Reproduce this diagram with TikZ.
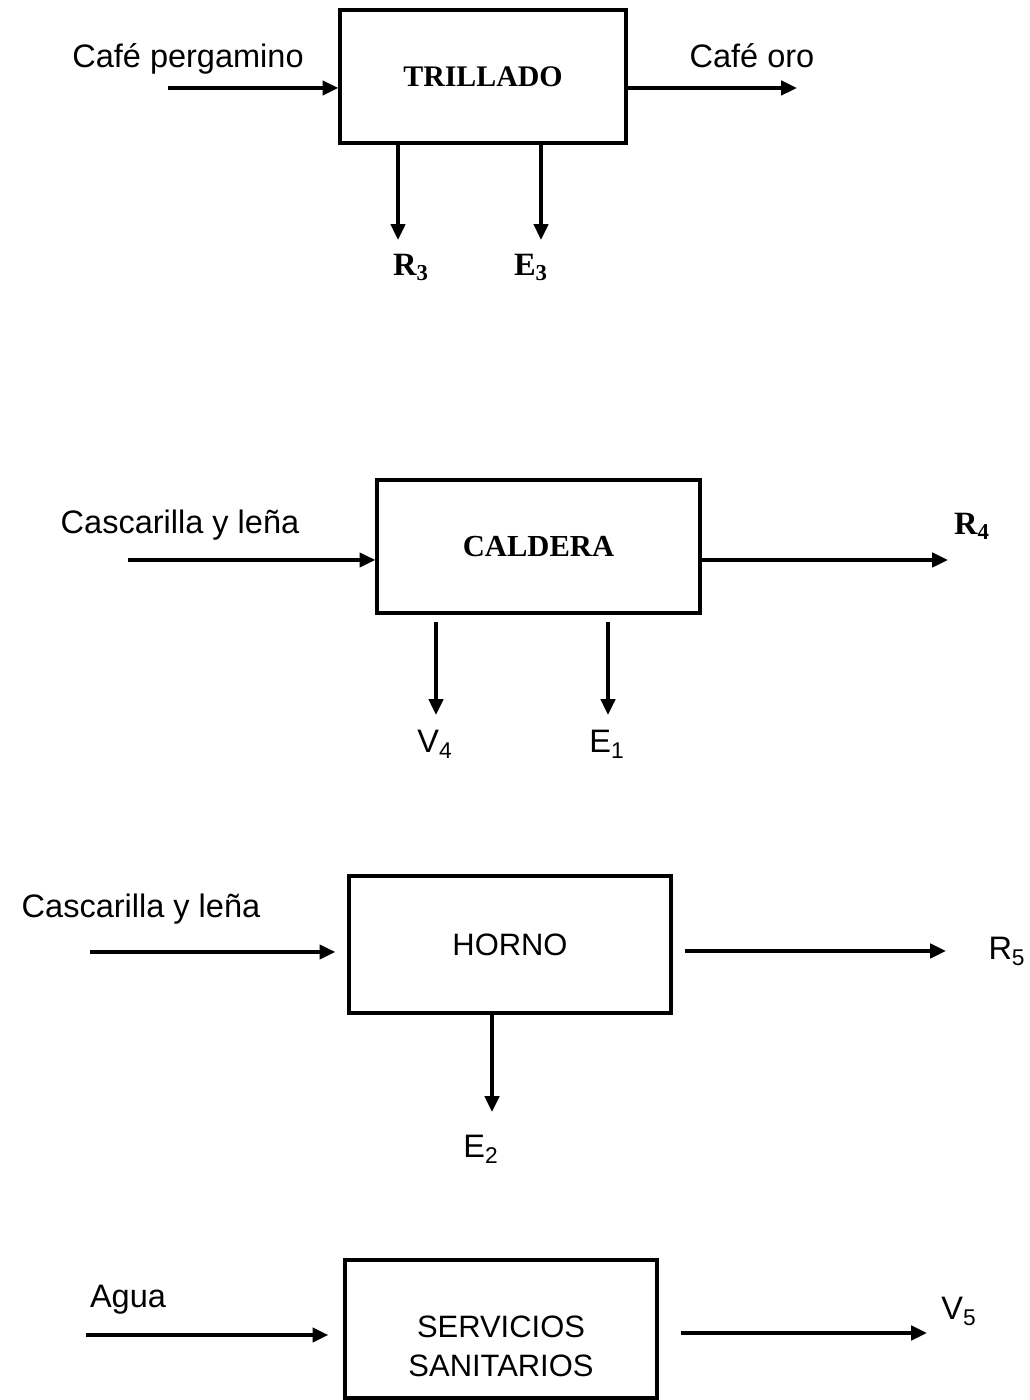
\documentclass[tikz,border=0pt]{standalone}
\usepackage{fontspec}
\setmainfont{Liberation Serif}
\setsansfont{Liberation Sans}
\usetikzlibrary{arrows.meta, positioning, calc}

\begin{document}
\begin{tikzpicture}[
  procbox/.style={draw, line width=1.8pt, inner sep=0pt, align=center},
  flow/.style={line width=2.2pt, -{Triangle[length=9pt, width=8pt]}},
  lbl/.style={font=\sffamily\fontsize{18.5}{22}\selectfont, inner sep=0pt, anchor=base},
  serlbl/.style={font=\bfseries\fontsize{18.5}{22}\selectfont, inner sep=0pt, anchor=base}
]
  \useasboundingbox (0,0) rectangle (20.58,28);

  % Trillado
  \node[procbox, minimum width=5.72cm, minimum height=2.66cm, font=\bfseries\fontsize{17}{20}\selectfont] (trill) at (9.66,26.47) {TRILLADO};
  \node[lbl] (pergamino) at (3.76,26.64) {Café pergamino};
  \node[lbl] (oro) at (15.04,26.64) {Café oro};
  \node[serlbl] (r3) at (8.22,22.48) {R\textsubscript{3}};
  \node[serlbl] (e3) at (10.62,22.48) {E\textsubscript{3}};
  \coordinate (trillin) at (3.36,26.24);
  \coordinate (trillout) at (15.94,26.24);
  \coordinate (trillr) at (7.96,23.2);
  \coordinate (trille) at (10.82,23.2);
  \draw[flow] (trillin) -- (trillin -| trill.west);
  \draw[flow] (trillout -| trill.east) -- (trillout);
  \draw[flow] (trillr |- trill.south) -- (trillr);
  \draw[flow] (trille |- trill.south) -- (trille);

  % Caldera
  \node[procbox, minimum width=6.46cm, minimum height=2.66cm, font=\bfseries\fontsize{17.4}{20}\selectfont] (cald) at (10.77,17.07) {CALDERA};
  \node[lbl] (leniaA) at (3.6,17.32) {Cascarilla y leña};
  \node[serlbl] (r4) at (19.44,17.3) {R\textsubscript{4}};
  \node[lbl] (v4) at (8.7,12.94) {V\textsubscript{4}};
  \node[lbl] (e1) at (12.14,12.94) {E\textsubscript{1}};
  \coordinate (caldin) at (2.56,16.8);
  \coordinate (caldout) at (18.96,16.8);
  \coordinate (caldv) at (8.72,13.7);
  \coordinate (calde) at (12.16,13.7);
  \draw[flow] (caldin) -- (caldin -| cald.west);
  \draw[flow] (caldout -| cald.east) -- (caldout);
  \draw[flow, shorten <=0.14cm] (caldv |- cald.south) -- (caldv);
  \draw[flow, shorten <=0.14cm] (calde |- cald.south) -- (calde);

  % Horno
  \node[procbox, minimum width=6.44cm, minimum height=2.74cm, font=\sffamily\fontsize{17.6}{20}\selectfont] (horno) at (10.2,9.11) {HORNO};
  \node[lbl] (leniaB) at (2.82,9.64) {Cascarilla y leña};
  \node[lbl] (r5) at (20.14,8.8) {R\textsubscript{5}};
  \node[lbl] (e2) at (9.62,4.84) {E\textsubscript{2}};
  \coordinate (hornoin) at (1.8,8.96);
  \coordinate (hornoout) at (18.92,8.98);
  \coordinate (hornoe) at (9.84,5.76);
  \draw[flow, shorten >=0.24cm] (hornoin) -- (hornoin -| horno.west);
  \draw[flow, shorten <=0.24cm] (hornoout -| horno.east) -- (hornoout);
  \draw[flow] (hornoe |- horno.south) -- (hornoe);

  % Servicios sanitarios (text sits low in the box)
  \node[procbox, minimum width=6.24cm, minimum height=2.76cm, font=\sffamily\fontsize{17.6}{22.7}\selectfont] (sanit) at (10.02,1.42) {\rule{0pt}{32pt}SERVICIOS\\SANITARIOS};
  \node[lbl] (agua) at (2.56,1.84) {Agua};
  \node[lbl] (v5) at (19.18,1.6) {V\textsubscript{5}};
  \coordinate (sanitin) at (1.72,1.3);
  \coordinate (sanitout) at (18.54,1.34);
  \draw[flow, shorten >=0.3cm] (sanitin) -- (sanitin -| sanit.west);
  \draw[flow, shorten <=0.44cm] (sanitout -| sanit.east) -- (sanitout);
\end{tikzpicture}
\end{document}
